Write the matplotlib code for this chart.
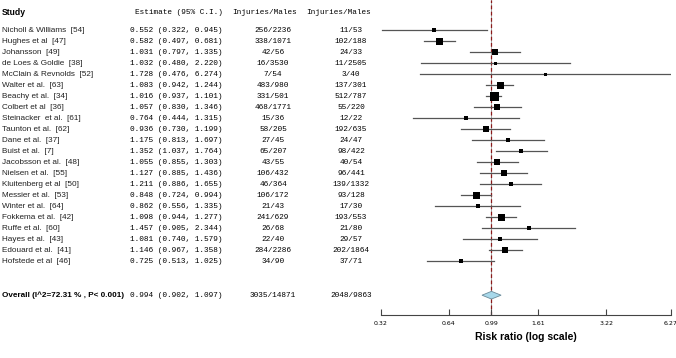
import matplotlib.pyplot as plt
from matplotlib.transforms import blended_transform_factory
from matplotlib.patches import Polygon

studies = ["Nicholl & Williams", "Hughes et al", "Johansson", "de Loes & Goldie",
           "McClain & Revnolds", "Walter et al.", "Beachy et al.", "Colbert et al",
           "Steinacker  et al.", "Taunton et al.", "Dane et al.", "Buist et al.",
           "Jacobsson et al.", "Nielsen et al.", "Kluitenberg et al", "Messier et al.",
           "Winter et al.", "Fokkema et al.", "Ruffe et al.", "Hayes et al.",
           "Edouard et al.", "Hofstede et al"]
refs = ["[54]", "[47]", "[49]", "[38]", "[52]", "[63]", "[34]", "[36]", "[61]", "[62]",
        "[37]", "[7]", "[48]", "[55]", "[50]", "[53]", "[64]", "[42]", "[60]", "[43]",
        "[41]", "[46]"]
est = [0.552, 0.582, 1.031, 1.032, 1.728, 1.083, 1.016, 1.057, 0.764, 0.936, 1.175,
       1.352, 1.055, 1.127, 1.211, 0.848, 0.862, 1.098, 1.457, 1.081, 1.146, 0.725]
lo = [0.322, 0.497, 0.797, 0.480, 0.476, 0.942, 0.937, 0.830, 0.444, 0.730, 0.813,
      1.037, 0.855, 0.885, 0.886, 0.724, 0.556, 0.944, 0.905, 0.740, 0.967, 0.513]
hi = [0.945, 0.681, 1.335, 2.220, 6.274, 1.244, 1.101, 1.346, 1.315, 1.199, 1.697,
      1.764, 1.303, 1.436, 1.655, 0.994, 1.335, 1.277, 2.344, 1.579, 1.358, 1.025]
inj1 = ["256/2236", "338/1071", "42/56", "16/3530", "7/54", "483/980", "331/501",
        "468/1771", "15/36", "58/205", "27/45", "65/207", "43/55", "106/432", "46/364",
        "106/172", "21/43", "241/629", "26/68", "22/40", "284/2286", "34/90"]
inj2 = ["11/53", "102/188", "24/33", "11/2505", "3/40", "137/301", "512/787", "55/220",
        "12/22", "192/635", "24/47", "98/422", "40/54", "96/441", "139/1332", "93/128",
        "17/30", "193/553", "21/80", "29/57", "202/1864", "37/71"]
# approximate study weights (box size)
weights = [4, 7, 5.5, 3, 3, 7, 9, 5.5, 4.5, 5.5, 4.5, 5, 6, 6, 5, 7, 4.5, 7, 3.5, 4.5, 6.5, 5]

overall = (0.994, 0.902, 1.097)
overall_label = "Overall (I^2=72.31 % , P< 0.001)"
overall_inj = ("3035/14871", "2048/9863")
ticks = [0.32, 0.64, 0.99, 1.61, 3.22, 6.27]

W, H = 676, 358
fig = plt.figure(figsize=(W / 100, H / 100), dpi=100)
ax = fig.add_axes([381 / W, (H - 315) / H, 290 / W, 315 / H])
ax.set_xscale("log")
ax.set_xlim(0.32, 6.27)
ax.set_ylim(25.9, -2.727)

n = len(studies)
for i in range(n):
    ax.plot([lo[i], hi[i]], [i, i], color="#555555", lw=0.9, zorder=2)
    ax.plot(est[i], i, marker="s", color="black", ms=weights[i] * 0.72, mew=0, zorder=3)

oy = 24.1
ax.add_patch(Polygon([(overall[1], oy), (overall[0], oy - 0.35), (overall[2], oy),
                      (overall[0], oy + 0.35)], closed=True, facecolor="#a8d8ea",
                     edgecolor="#6a8a99", lw=0.6, zorder=3))

ax.axvline(0.99, color="#999999", lw=0.6, zorder=1)
ax.axvline(0.99, color="#8b1a1a", lw=0.9, ls=(0, (3, 2)), zorder=1)

for s in ["top", "right", "left"]:
    ax.spines[s].set_visible(False)
ax.spines["bottom"].set_color("#444444")
ax.spines["bottom"].set_linewidth(0.8)
ax.set_yticks([])
ax.set_xticks(ticks)
ax.set_xticklabels([f"{t:.2f}" for t in ticks])
ax.xaxis.set_minor_locator(plt.NullLocator())
ax.tick_params(axis="x", direction="in", length=4, width=0.8, color="#444444",
               labelsize=4.5, pad=4)
ax.set_xlabel("Risk ratio (log scale)", fontsize=7.5, fontweight="bold",
              family="Liberation Sans", labelpad=5)

tr = blended_transform_factory(fig.transFigure, ax.transData)
sans = "Liberation Sans"
mono = "Liberation Mono"

ax.text(2 / W, -1.6, "Study", transform=tr, fontsize=6.2, fontweight="bold",
        family=sans, va="center", ha="left")
ax.text(223 / W, -1.6, "Estimate (95% C.I.)", transform=tr, fontsize=5.6,
        family=mono, va="center", ha="right")
ax.text(232 / W, -1.6, "Injuries/Males", transform=tr, fontsize=5.6,
        family=mono, va="center", ha="left")
ax.text(306 / W, -1.6, "Injuries/Males", transform=tr, fontsize=5.6,
        family=mono, va="center", ha="left")

for i in range(n):
    ax.text(2 / W, i, f"{studies[i]}  {refs[i]}", transform=tr, fontsize=5.9,
            family=sans, va="center", ha="left", color="#222222")
    ax.text(223 / W, i, f"{est[i]:.3f} ({lo[i]:.3f}, {hi[i]:.3f})", transform=tr,
            fontsize=5.6, family=mono, va="center", ha="right")
    ax.text(273 / W, i, inj1[i], transform=tr, fontsize=5.6, family=mono,
            va="center", ha="center")
    ax.text(351 / W, i, inj2[i], transform=tr, fontsize=5.6, family=mono,
            va="center", ha="center")

ax.text(2 / W, oy, overall_label, transform=tr, fontsize=5.9, fontweight="bold",
        family=sans, va="center", ha="left")
ax.text(223 / W, oy, f"{overall[0]:.3f} ({overall[1]:.3f}, {overall[2]:.3f})",
        transform=tr, fontsize=5.6, family=mono, va="center", ha="right")
ax.text(273 / W, oy, overall_inj[0], transform=tr, fontsize=5.6, family=mono,
        va="center", ha="center")
ax.text(351 / W, oy, overall_inj[1], transform=tr, fontsize=5.6, family=mono,
        va="center", ha="center")

fig.savefig("out.png", dpi=100)
